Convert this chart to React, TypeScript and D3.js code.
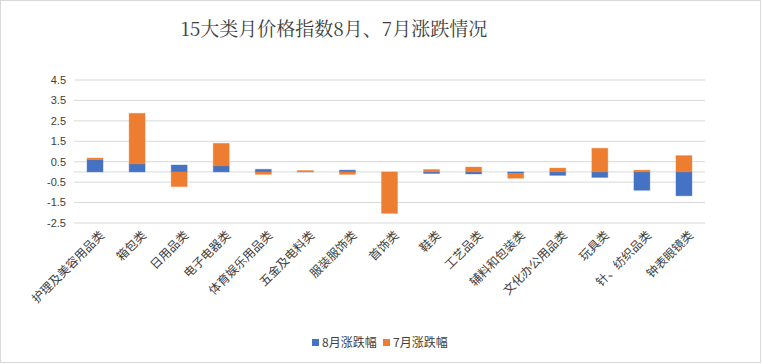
import React from "react";
import * as d3 from "d3";

const categories = ["护理及美容用品类","箱包类","日用品类","电子电器类","体育娱乐用品类","五金及电料类","服装服饰类","首饰类","鞋类","工艺品类","辅料和包装类","文化办公用品类","玩具类","针、纺织品类","钟表眼镜类"];
const aug = [0.60, 0.39, 0.34, 0.29, 0.13, 0.01, 0.09, 0.0, -0.08, -0.1, -0.08, -0.17, -0.27, -0.90, -1.17];
const jul = [0.08, 2.48, -0.72, 1.11, -0.12, 0.06, -0.12, -2.03, 0.12, 0.24, -0.23, 0.19, 1.16, 0.09, 0.80];
const yTicks = [4.5, 3.5, 2.5, 1.5, 0.5, -0.5, -1.5, -2.5];
const seriesNames = ["8月涨跌幅", "7月涨跌幅"];
const colors = ["#4472C4", "#ED7D31"];
const title = "15大类月价格指数8月、7月涨跌情况";

export default function App() {
  const W = 762, H = 364;
  const left = 74, right = 705, top = 80, bottom = 223;
  const x = d3.scaleBand<string>().domain(categories).range([left, right]).paddingInner(0.62).paddingOuter(0.31);
  const y = d3.scaleLinear().domain([-2.5, 4.5]).range([bottom, top]);
  const font = "'Noto Sans CJK SC', 'Noto Sans', sans-serif";

  const bars: any[] = [];
  categories.forEach((c, i) => {
    let pos = 0, neg = 0;
    [aug[i], jul[i]].forEach((v, s) => {
      let y0, y1;
      if (v >= 0) { y0 = pos; y1 = pos + v; pos = y1; }
      else { y0 = neg; y1 = neg + v; neg = y1; }
      bars.push({ c, s, y0, y1 });
    });
  });

  return (
    <svg width={W} height={H} style={{ position: "absolute", left: 0, top: 0, background: "#fff" }}>
      <rect x={0.5} y={0.5} width={W - 2} height={H - 2} fill="#fff" stroke="#d9d9d9" />
      <text x={334} y={36} textAnchor="middle" fontSize={19} fill="#404040" fontFamily="'Noto Serif CJK SC', 'Noto Sans CJK SC', serif">{title}</text>
      {yTicks.map(t => (
        <g key={t}>
          <line x1={left} x2={right} y1={y(t)} y2={y(t)} stroke="#d9d9d9" strokeWidth={1} />
          <text x={66} y={y(t)} dy="0.35em" textAnchor="end" fontSize={11} fill="#404040" fontFamily="'Liberation Sans', Arial, sans-serif">{t.toFixed(1)}</text>
        </g>
      ))}
      <line x1={left} x2={right} y1={y(0)} y2={y(0)} stroke="#d9d9d9" strokeWidth={1} />
      {bars.map((b, k) => (
        <rect key={k} x={x(b.c)!} width={x.bandwidth()} y={y(Math.max(b.y0, b.y1))} height={Math.abs(y(b.y0) - y(b.y1))}
          fill={colors[b.s]} stroke={colors[b.s]} strokeOpacity={0.35} strokeWidth={1} />
      ))}
      {categories.map(c => {
        const cx = x(c)! + x.bandwidth() / 2;
        return (
          <text key={c} transform={`translate(${cx + 7},${233}) rotate(-45)`} textAnchor="end" dy="0.35em" fontSize={12} fill="#404040" fontFamily={font}>{c}</text>
        );
      })}
      {seriesNames.map((n, i) => {
        const lx = [312, 383][i];
        return (
          <g key={n}>
            <rect x={lx} y={339} width={7} height={7} fill={colors[i]} />
            <text x={lx + 10} y={343} dy="0.35em" fontSize={12} fill="#404040" fontFamily={font}>{n}</text>
          </g>
        );
      })}
    </svg>
  );
}
